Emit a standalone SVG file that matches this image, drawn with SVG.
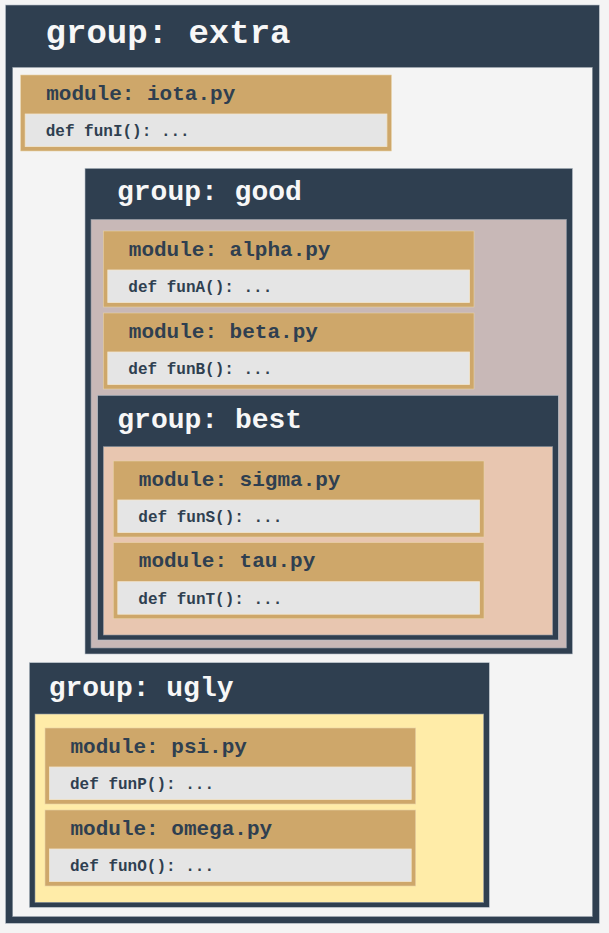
<svg xmlns="http://www.w3.org/2000/svg" width="609" height="933" viewBox="0 0 609 933">
<style>
.gbox{fill:#2f3f50;stroke:#b7c0c9;stroke-width:0.6}
.gin{stroke:#8a95a1;stroke-width:0.6}
.gtitle{font-family:"Liberation Mono","Courier New",monospace;font-weight:bold;fill:#f7f7f7}
.mbox{fill:#cea76a;stroke:#e8d2a8;stroke-width:0.6}
.mbody{fill:#e5e5e5;stroke:#f2e6cf;stroke-width:0.8}
.mtitle{font-family:"Liberation Mono","Courier New",monospace;font-weight:bold;font-size:21px;fill:#2f3f50}
.mdef{font-family:"Liberation Mono","Courier New",monospace;font-weight:bold;font-size:16px;fill:#2f3f50}
</style>
<rect x="0" y="0" width="609" height="933" fill="#f4f4f4"/>

<g id="group-extra">
  <rect class="gbox" x="5.5" y="5" width="593.8" height="918.3"/>
  <rect class="gin" x="12.7" y="67.3" width="579.6" height="849.4" fill="#f4f4f4"/>
  <text class="gtitle" x="45.6" y="43.3" font-size="34">group: extra</text>
</g>

<g id="module-iota" transform="translate(20.7,75)">
  <rect class="mbox" x="0" y="0" width="370.7" height="76"/>
  <rect class="mbody" x="4.5" y="39" width="361.7" height="32.5"/>
  <text class="mtitle" x="25.5" y="24.5">module: iota.py</text>
  <text class="mdef" x="25" y="61">def funI(): ...</text>
</g>

<g id="group-good">
  <rect class="gbox" x="85" y="168.3" width="487.5" height="485.7"/>
  <rect class="gin" x="91" y="219.3" width="475.5" height="428.7" fill="#c8b8b7"/>
  <text class="gtitle" x="117" y="200" font-size="28">group: good</text>
</g>

<g id="module-alpha" transform="translate(103.3,231)">
  <rect class="mbox" x="0" y="0" width="370.7" height="76"/>
  <rect class="mbody" x="4.5" y="39" width="361.7" height="32.5"/>
  <text class="mtitle" x="25.5" y="24.5">module: alpha.py</text>
  <text class="mdef" x="25" y="61">def funA(): ...</text>
</g>

<g id="module-beta" transform="translate(103.3,313)">
  <rect class="mbox" x="0" y="0" width="370.7" height="76"/>
  <rect class="mbody" x="4.5" y="39" width="361.7" height="32.5"/>
  <text class="mtitle" x="25.5" y="24.5">module: beta.py</text>
  <text class="mdef" x="25" y="61">def funB(): ...</text>
</g>

<g id="group-best">
  <rect class="gbox" x="97.7" y="395.3" width="460.6" height="244.7"/>
  <rect class="gin" x="103.3" y="446.7" width="449.4" height="188.3" fill="#e8c6b0"/>
  <text class="gtitle" x="117.3" y="428.3" font-size="28">group: best</text>
</g>

<g id="module-sigma" transform="translate(113.3,461)">
  <rect class="mbox" x="0" y="0" width="370.7" height="76"/>
  <rect class="mbody" x="4.5" y="39" width="361.7" height="32.5"/>
  <text class="mtitle" x="25.5" y="24.5">module: sigma.py</text>
  <text class="mdef" x="25" y="61">def funS(): ...</text>
</g>

<g id="module-tau" transform="translate(113.3,542.7)">
  <rect class="mbox" x="0" y="0" width="370.7" height="76"/>
  <rect class="mbody" x="4.5" y="39" width="361.7" height="32.5"/>
  <text class="mtitle" x="25.5" y="24.5">module: tau.py</text>
  <text class="mdef" x="25" y="61">def funT(): ...</text>
</g>

<g id="group-ugly">
  <rect class="gbox" x="29.3" y="662.7" width="460" height="244.6"/>
  <rect class="gin" x="35" y="714" width="448.7" height="188.3" fill="#ffeca8"/>
  <text class="gtitle" x="48.7" y="696" font-size="28">group: ugly</text>
</g>

<g id="module-psi" transform="translate(45,728)">
  <rect class="mbox" x="0" y="0" width="370.7" height="76"/>
  <rect class="mbody" x="4.5" y="39" width="361.7" height="32.5"/>
  <text class="mtitle" x="25.5" y="24.5">module: psi.py</text>
  <text class="mdef" x="25" y="61">def funP(): ...</text>
</g>

<g id="module-omega" transform="translate(45,810)">
  <rect class="mbox" x="0" y="0" width="370.7" height="76"/>
  <rect class="mbody" x="4.5" y="39" width="361.7" height="32.5"/>
  <text class="mtitle" x="25.5" y="24.5">module: omega.py</text>
  <text class="mdef" x="25" y="61">def funO(): ...</text>
</g>

<g id="connectors"></g>
</svg>
